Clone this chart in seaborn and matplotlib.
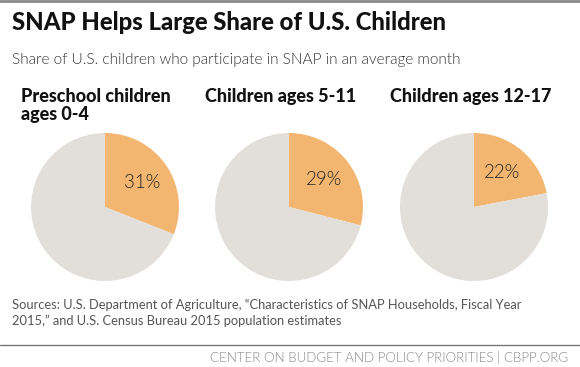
import seaborn as sns
import matplotlib.pyplot as plt
from matplotlib.lines import Line2D

# data
groups = ["Preschool children\nages 0-4", "Children ages 5-11", "Children ages 12-17"]
shares = [31, 29, 22]
title = "SNAP Helps Large Share of U.S. Children"
subtitle = "Share of U.S. children who participate in SNAP in an average month"
source = ("Sources: U.S. Department of Agriculture, \u201cCharacteristics of SNAP Households, Fiscal Year\n"
          "2015,\u201d and U.S. Census Bureau 2015 population estimates")
footer = "CENTER ON BUDGET AND POLICY PRIORITIES | CBPP.ORG"

sns.set_theme(style="white")
plt.rcParams['font.family'] = ['Lato', 'DejaVu Sans']

orange = "#f2b670"
grey = "#e2dfda"

W, H = 580, 367
fig = plt.figure(figsize=(W / 100, H / 100), dpi=100)

# top rule
fig.add_artist(Line2D([0, 1], [1 - 1 / H, 1 - 1 / H], color="#8a8a8a", lw=2))

fig.text(12 / W, 1 - 23 / H, title, fontsize=17.2, fontweight="black", color="#111111", va="center")
fig.text(12 / W, 1 - 60 / H, subtitle, fontsize=11.1, fontweight=300, color="#333333", va="center")

centers = [105, 289, 474]
label_x = [21, 205, 390]
r = 74
cy = 207
for i, (g, s) in enumerate(zip(groups, shares)):
    cx = centers[i]
    ax = fig.add_axes([(cx - r) / W, (H - cy - r) / H, 2 * r / W, 2 * r / H])
    wedges, texts, autotexts = ax.pie(
        [s, 100 - s], colors=[orange, grey], startangle=90, counterclock=False,
        autopct=lambda p: "%d%%" % round(p) if p < 50 else "", pctdistance=0.6,
        textprops=dict(fontsize=13.5, fontweight=300, color="#222222"),
        wedgeprops=dict(linewidth=0))
    ax.set_xlim(-1, 1)
    ax.set_ylim(-1, 1)
    ax.set_aspect("auto")
    ax.axis("off")
    fig.text(label_x[i] / W, 1 - 88 / H, g, fontsize=13, fontweight="black", color="#111111",
             va="top", linespacing=1.05)

fig.text(12 / W, 1 - 313 / H, source, fontsize=9.3, color="#555555", va="center", linespacing=1.35)
fig.add_artist(Line2D([0, 1], [1 - 345 / H, 1 - 345 / H], color="#777777", lw=1))
fig.text(568 / W, 1 - 357 / H, footer, fontsize=9.6, fontweight=300, color="#888888", ha="right", va="center")

fig.savefig("out.png", dpi=100)
